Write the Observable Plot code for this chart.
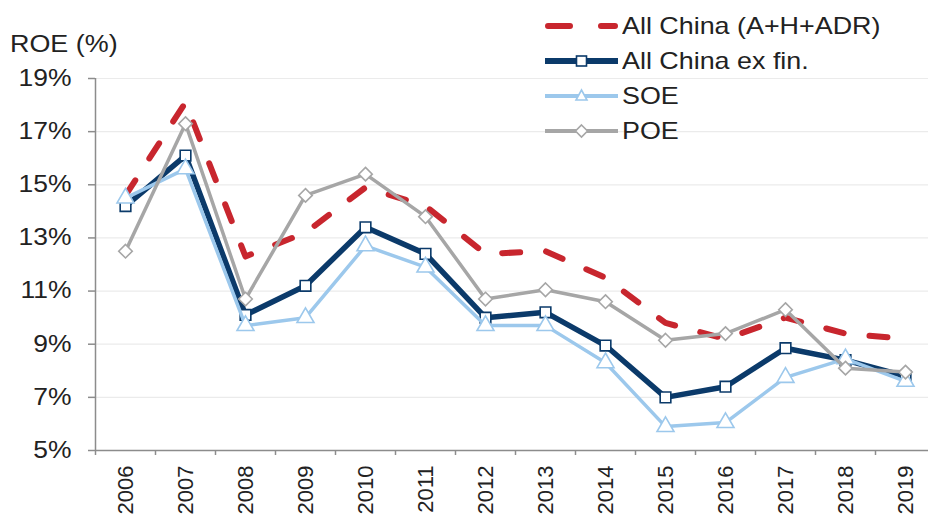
<!DOCTYPE html>
<html>
<head>
<meta charset="utf-8">
<script src="https://cdn.jsdelivr.net/npm/d3@7"></script>
<script src="https://cdn.jsdelivr.net/npm/@observablehq/plot@0.6"></script>
<style>
  html, body { margin: 0; padding: 0; background: #fff; overflow: hidden; }
  #chart { position: relative; width: 928px; height: 520px; font-family: "Liberation Sans", Arial, sans-serif; color: #222; }
  #chart svg.plot { position: absolute; left: 0; top: 0; }
  #ylabel { position: absolute; left: 10px; top: 33px; font-size: 23px; line-height: 23px; white-space: nowrap;
            transform: scaleX(1.17); transform-origin: left center; }
  #legend { position: absolute; left: 545px; top: 8px; }
  #legend .row { display: flex; align-items: center; height: 35px; }
  #legend .row svg { flex: none; }
  #legend .row span { font-size: 24px; white-space: nowrap; margin-left: 4px;
                      transform: scaleX(1.12); transform-origin: left center; }
</style>
</head>
<body>
<div id="chart">
  <div id="ylabel">ROE (%)</div>
  <div id="legend"></div>
</div>
<script>
// Return on equity by year, in percent
const years = [2006, 2007, 2008, 2009, 2010, 2011, 2012, 2013, 2014, 2015, 2016, 2017, 2018, 2019];
const allChina = [14.6, 18.1, 12.3, 13.2, 14.9, 14.2, 12.4, 12.5, 11.5, 9.8, 9.2, 10.0, 9.4, 9.2];
const allChinaExFin = [14.2, 16.1, 10.1, 11.2, 13.4, 12.4, 10.0, 10.2, 8.95, 7.0, 7.4, 8.85, 8.4, 7.8];
const soe = [14.5, 15.6, 9.7, 10.0, 12.7, 11.9, 9.7, 9.7, 8.3, 5.9, 6.05, 7.75, 8.45, 7.6];
const poe = [12.5, 17.3, 10.7, 14.6, 15.4, 13.8, 10.7, 11.05, 10.6, 9.15, 9.4, 10.3, 8.1, 7.95];

const yTicks = [5, 7, 9, 11, 13, 15, 17, 19];
const seriesNames = ["All China (A+H+ADR)", "All China ex fin.", "SOE", "POE"];

const RED = "#C8262E", NAVY = "#0B3A6A", SKY = "#9CC8EC", GREY = "#A6A6A6", AXIS = "#8C8C8C";

const rows = (vals) => years.map((year, i) => ({year, value: vals[i]}));
// year boundaries, where the category tick marks sit
const bounds = [...years.map((y) => y - 0.5), years[years.length - 1] + 0.5];

const plot = Plot.plot({
  width: 928,
  height: 520,
  marginTop: 78,
  marginBottom: 70,
  marginLeft: 95,
  marginRight: 0,
  style: {fontFamily: '"Liberation Sans", Arial, sans-serif', color: "#222", background: "transparent"},
  x: {type: "linear", domain: [bounds[0], bounds[bounds.length - 1]], range: [95, 935]},
  y: {domain: [5, 19], range: [450, 78]},
  marks: [
    Plot.gridY(yTicks.slice(1), {stroke: "#ebebeb", strokeOpacity: 1, strokeWidth: 1.2}),
    Plot.ruleY([yTicks[0]], {stroke: AXIS, strokeWidth: 1.5}),
    Plot.ruleX([bounds[0]], {stroke: AXIS, strokeWidth: 1.5}),
    Plot.axisY({ticks: yTicks, tickFormat: (d) => d + "%", tickSize: 7, tickPadding: 17,
                fontSize: 23, stroke: AXIS, strokeWidth: 1.5, label: null}),
    Plot.axisX({ticks: bounds, tickFormat: () => "", tickSize: 5, stroke: AXIS, strokeWidth: 1.5, label: null}),
    Plot.axisX({ticks: years, tickFormat: (d) => String(d), tickSize: 0, tickPadding: 15,
                tickRotate: -90, fontSize: 22, label: null}),

    Plot.line(rows(allChina), {x: "year", y: "value", stroke: RED, strokeWidth: 6,
                               strokeDasharray: "18,26", strokeLinecap: "round"}),

    Plot.line(rows(allChinaExFin), {x: "year", y: "value", stroke: NAVY, strokeWidth: 5.5}),
    Plot.dot(rows(allChinaExFin), {x: "year", y: "value", symbol: "square", r: 6,
                                   fill: "white", stroke: NAVY, strokeWidth: 1.6}),

    Plot.line(rows(soe), {x: "year", y: "value", stroke: SKY, strokeWidth: 3.5}),
    Plot.dot(rows(soe), {x: "year", y: "value", symbol: "triangle", r: 6.3,
                         fill: "white", stroke: SKY, strokeWidth: 1.6}),

    Plot.line(rows(poe), {x: "year", y: "value", stroke: GREY, strokeWidth: 3.5}),
    Plot.dot(rows(poe), {x: "year", y: "value", symbol: "diamond2", r: 6.1,
                         fill: "white", stroke: GREY, strokeWidth: 1.6})
  ]
});
plot.classList.add("plot");

// widen the y tick label glyphs slightly
plot.querySelectorAll('g[aria-label="y-axis tick label"] text').forEach((t) => {
  const tr = t.getAttribute("transform");
  if (tr) t.setAttribute("transform", tr + " scale(1.15,1)");
});

const chart = document.getElementById("chart");
chart.insertBefore(plot, chart.firstChild);

// legend swatches: line style plus marker
const swatches = [
  `<line x1="3" y1="10" x2="70" y2="10" stroke="${RED}" stroke-width="6" stroke-linecap="round" stroke-dasharray="22,31"/>`,
  `<line x1="0" y1="10" x2="73" y2="10" stroke="${NAVY}" stroke-width="6"/>
   <rect x="31.5" y="5" width="10" height="10" fill="white" stroke="${NAVY}" stroke-width="1.6"/>`,
  `<line x1="0" y1="10" x2="73" y2="10" stroke="${SKY}" stroke-width="4"/>
   <polygon points="36.5,4 42,14 31,14" fill="white" stroke="${SKY}" stroke-width="1.6"/>`,
  `<line x1="0" y1="10" x2="73" y2="10" stroke="${GREY}" stroke-width="4"/>
   <polygon points="36.5,4 42.5,10 36.5,16 30.5,10" fill="white" stroke="${GREY}" stroke-width="1.6"/>`
];
const legend = document.getElementById("legend");
seriesNames.forEach((name, i) => {
  const row = document.createElement("div");
  row.className = "row";
  row.innerHTML = `<svg width="73" height="20" viewBox="0 0 73 20">${swatches[i]}</svg><span>${name}</span>`;
  legend.appendChild(row);
});
</script>
</body>
</html>
